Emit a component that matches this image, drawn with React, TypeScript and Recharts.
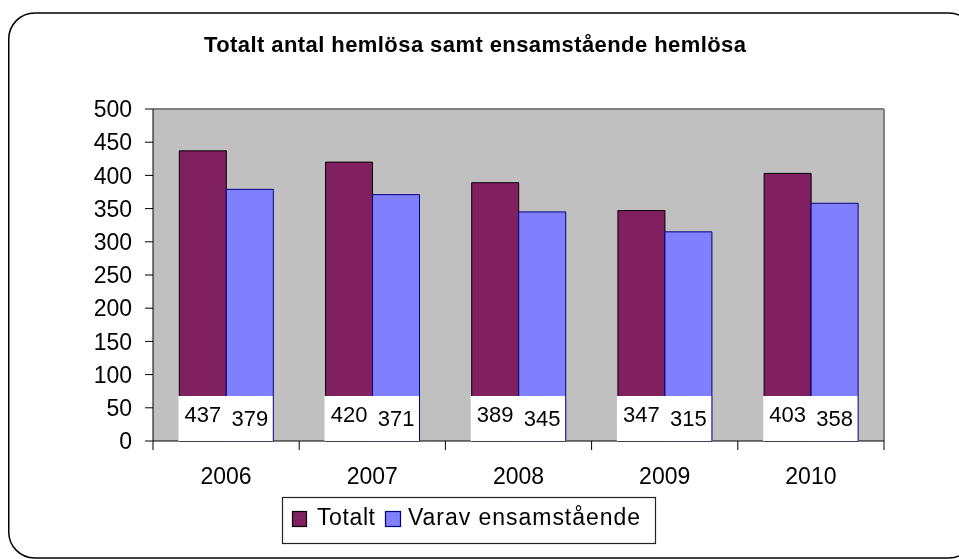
import { BarChart, Bar, XAxis, YAxis, CartesianGrid, LabelList } from 'recharts';

const years = ['2006', '2007', '2008', '2009', '2010'];
const totalt = [437, 420, 389, 347, 403];
const ensamstaende = [379, 371, 345, 315, 358];
const yTicks = [0, 50, 100, 150, 200, 250, 300, 350, 400, 450, 500];
const seriesNames = ['Totalt', 'Varav ensamstående'];
const title = 'Totalt antal hemlösa samt ensamstående hemlösa';

const data = years.map((year, i) => ({ year, totalt: totalt[i], ensam: ensamstaende[i] }));

const W = 951;
const H = 551;
const PLOT_LEFT = 145;
const PLOT_RIGHT = 876;
const PLOT_TOP = 101;
const PLOT_BOTTOM = 433;
const BAND = (PLOT_RIGHT - PLOT_LEFT) / years.length;
const FONT = '"Liberation Sans", Arial, sans-serif';

const MAROON = '#802060';
const BLUE = '#8080ff';

const XTick = (props: any) => {
  const { x, payload, index } = props;
  const left = x - BAND / 2;
  return (
    <g>
      <line x1={left} y1={PLOT_BOTTOM} x2={left} y2={PLOT_BOTTOM + 9} stroke="#000" />
      {index === years.length - 1 && (
        <line x1={x + BAND / 2} y1={PLOT_BOTTOM} x2={x + BAND / 2} y2={PLOT_BOTTOM + 9} stroke="#000" />
      )}
      <text x={x} y={PLOT_BOTTOM + 43} textAnchor="middle" fontSize={23} fill="#000">
        {payload.value}
      </text>
    </g>
  );
};

// white data-table style box at the foot of each bar
const boxLabel = (lift: number, edge?: string) => (props: any) => {
  const { x, y, width, height, value } = props;
  const bottom = y + height;
  return (
    <g>
      <rect x={x - 1} y={bottom - 45} width={width + 1.5} height={45} fill="#fff" />
      {edge && <line x1={x + width} y1={bottom - 45} x2={x + width} y2={bottom} stroke={edge} />}
      <text x={x + width / 2} y={bottom - lift} textAnchor="middle" fontSize={22} fill="#000">
        {value}
      </text>
    </g>
  );
};

export default function App() {
  return (
    <div style={{ position: 'fixed', left: 8, top: 8, width: W, height: H, fontFamily: FONT }}>
      <svg width={W} height={H} style={{ position: 'absolute', left: 0, top: 0 }}>
        <rect x={0.75} y={5} width={966} height={545} rx={26} fill="#fff" stroke="#000" strokeWidth={1.5} />
      </svg>
      <div style={{ position: 'absolute', left: 0, top: 0 }}>
        <BarChart
          width={W}
          height={H}
          data={data}
          margin={{ top: PLOT_TOP, right: W - PLOT_RIGHT, left: PLOT_LEFT - 60, bottom: H - PLOT_BOTTOM - 40 }}
          barCategoryGap="18%"
          barGap={0}
        >
          <CartesianGrid
            fill="#c0c0c0"
            stroke="#808080"
            strokeWidth={2}
            horizontalPoints={[PLOT_TOP]}
            verticalPoints={[PLOT_RIGHT]}
          />
          <XAxis
            dataKey="year"
            height={40}
            interval={0}
            tickLine={false}
            axisLine={{ stroke: '#000' }}
            tick={XTick}
          />
          <YAxis
            width={60}
            domain={[0, 500]}
            ticks={yTicks}
            interval={0}
            tickSize={8}
            tickMargin={13}
            axisLine={{ stroke: '#000' }}
            tickLine={{ stroke: '#000' }}
            tick={{ fill: '#000', fontSize: 23 }}
          />
          <Bar dataKey="totalt" fill={MAROON} stroke="#000" strokeWidth={1} isAnimationActive={false}>
            <LabelList dataKey="totalt" content={boxLabel(19.5)} />
          </Bar>
          <Bar dataKey="ensam" fill={BLUE} stroke="#000080" strokeWidth={1} isAnimationActive={false}>
            <LabelList dataKey="ensam" content={boxLabel(15.5, '#000080')} />
          </Bar>
        </BarChart>
      </div>
      <svg width={W} height={H} style={{ position: 'absolute', left: 0, top: 0, pointerEvents: 'none' }}>
        <text x={467} y={44} textAnchor="middle" fontSize={22} fontWeight="bold" textLength={542} lengthAdjust="spacing">
          {title}
        </text>
        <rect x={274.5} y={489.5} width={373} height={46} fill="#fff" stroke="#222" strokeWidth={1.2} />
        <rect x={284.5} y={503.5} width={14} height={15} fill={MAROON} stroke="#000" strokeWidth={1.2} />
        <text x={309} y={517} fontSize={23} textLength={58} lengthAdjust="spacing">
          {seriesNames[0]}
        </text>
        <rect x={377.5} y={503.5} width={15} height={15} fill={BLUE} stroke="#000080" strokeWidth={1.2} />
        <text x={400} y={517} fontSize={23} textLength={232} lengthAdjust="spacing">
          {seriesNames[1]}
        </text>
      </svg>
    </div>
  );
}
